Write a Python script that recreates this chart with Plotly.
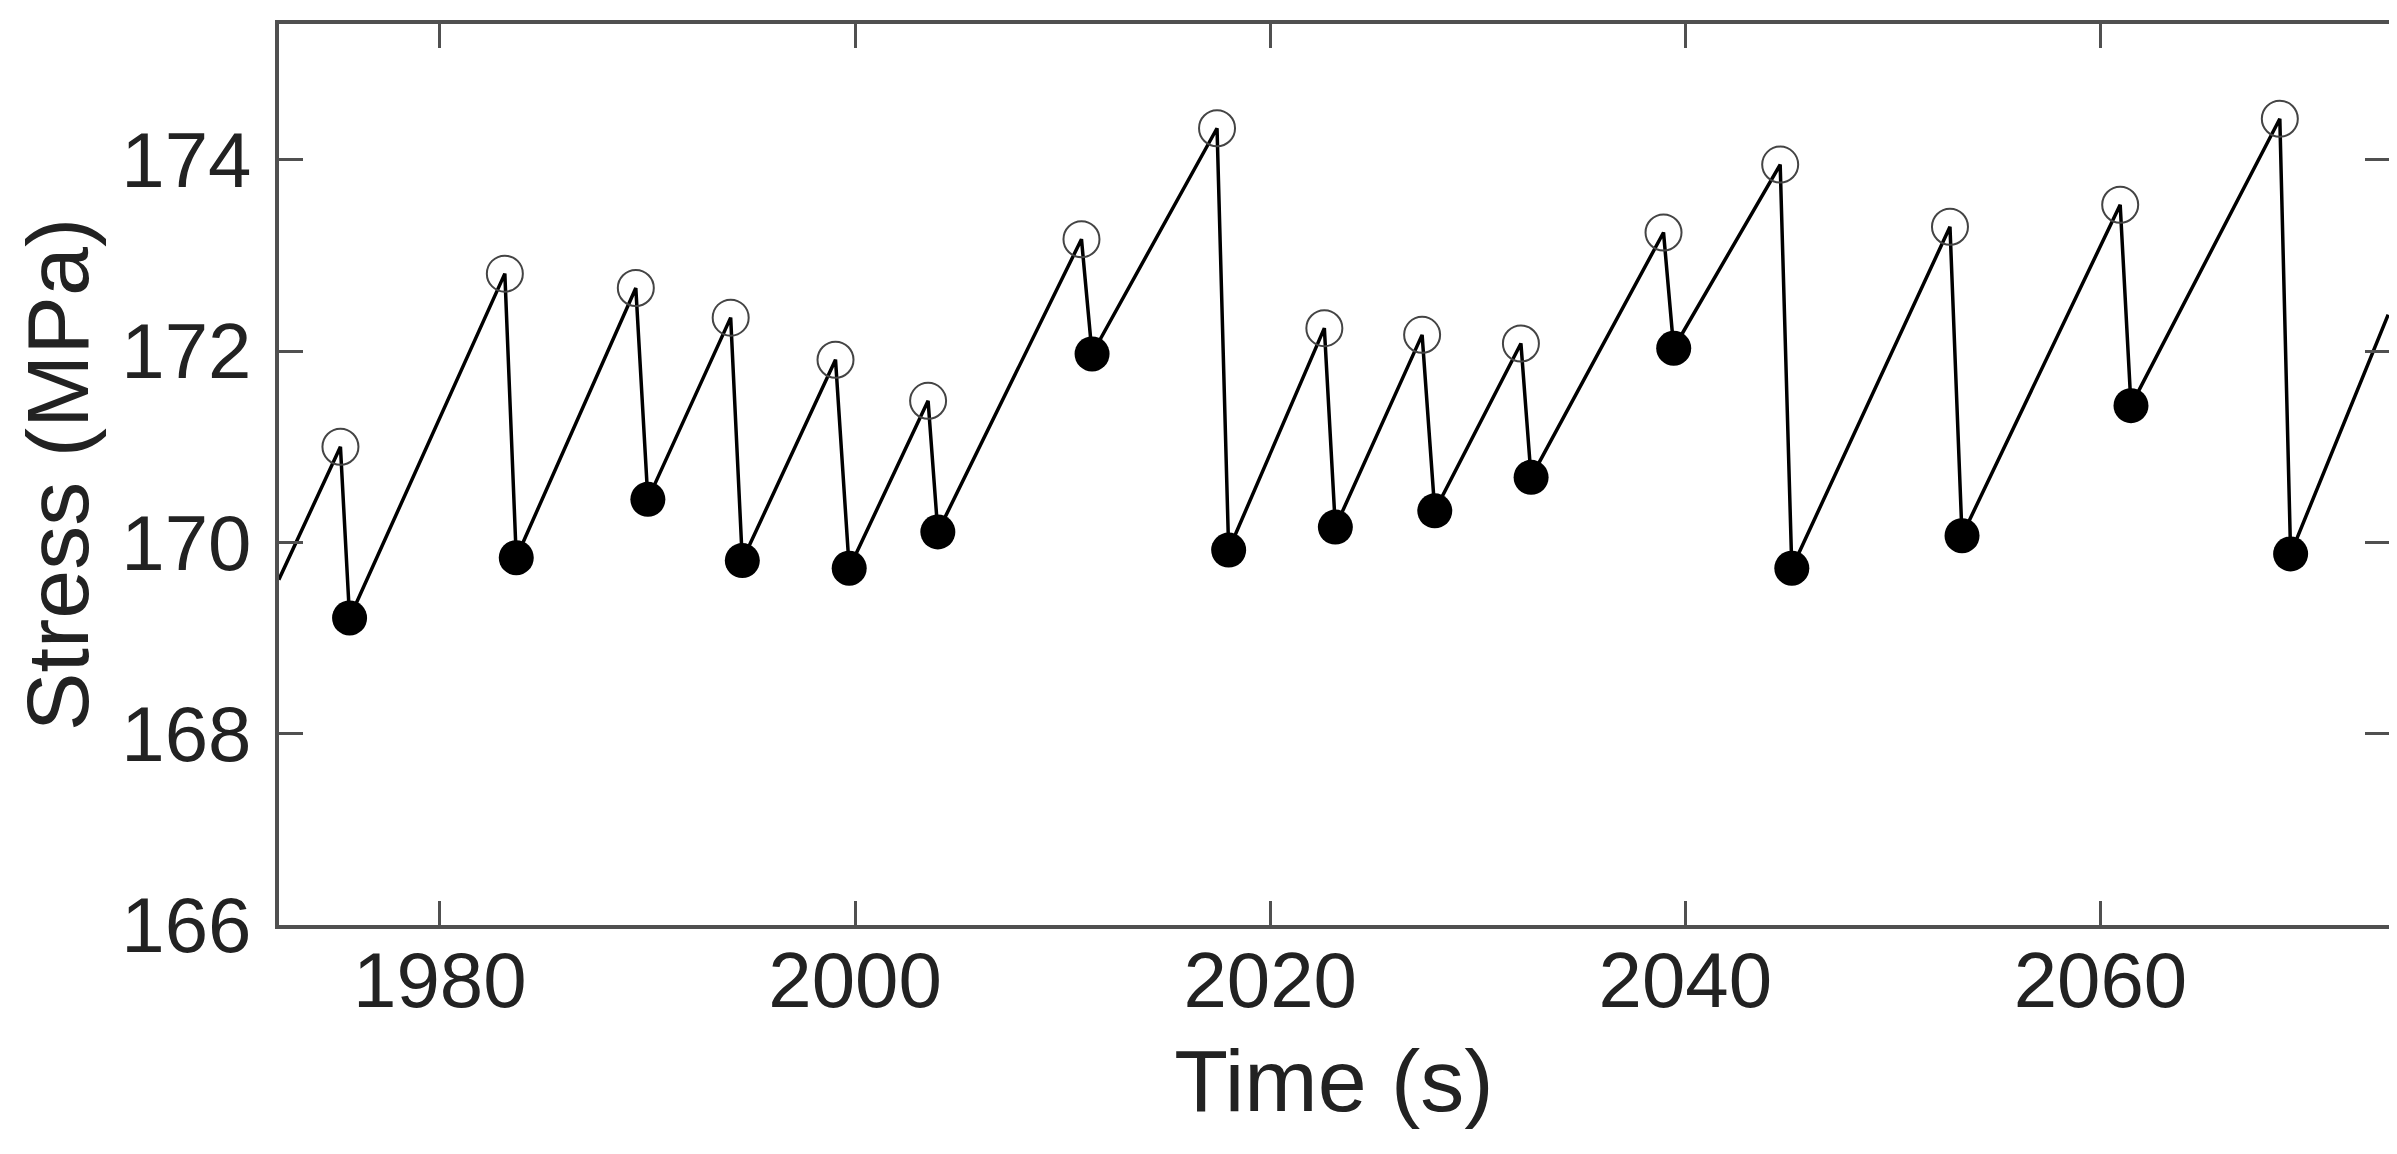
import plotly.graph_objects as go

# stress values
start_time, start_stress = 1972.24, 169.61
end_time, end_stress = 2073.86, 172.38

peak_time = [1975.21, 1983.13, 1989.44, 1994.01, 1999.06, 2003.52, 2010.91, 2017.44,
             2022.61, 2027.32, 2032.08, 2038.95, 2044.57, 2052.75, 2060.95, 2068.64]
peak_stress = [171.00, 172.81, 172.66, 172.35, 171.91, 171.48, 173.17, 174.33,
               172.24, 172.17, 172.08, 173.24, 173.95, 173.30, 173.53, 174.43]

trough_time = [1975.65, 1983.68, 1990.02, 1994.57, 1999.72, 2003.99, 2011.42, 2018.00,
               2023.14, 2027.93, 2032.57, 2039.44, 2045.13, 2053.33, 2061.47, 2069.16]
trough_stress = [169.21, 169.84, 170.45, 169.81, 169.73, 170.11, 171.97, 169.92,
                 170.16, 170.33, 170.68, 172.03, 169.73, 170.07, 171.43, 169.88]

x_ticks = [1980, 2000, 2020, 2040, 2060]
y_ticks = [166, 168, 170, 172, 174]

# full sawtooth: start -> (peak, trough) pairs -> end
line_t = [start_time]
line_s = [start_stress]
for pt, ps, tt, ts in zip(peak_time, peak_stress, trough_time, trough_stress):
    line_t += [pt, tt]
    line_s += [ps, ts]
line_t.append(end_time)
line_s.append(end_stress)

axis_color = "#505050"
font_family = "Liberation Sans, Arial, Helvetica, sans-serif"

fig = go.Figure()
fig.add_trace(go.Scatter(
    x=line_t, y=line_s, mode="lines",
    line=dict(color="black", width=3.5),
    showlegend=False, hoverinfo="skip"))
fig.add_trace(go.Scatter(
    x=peak_time, y=peak_stress, mode="markers",
    marker=dict(symbol="circle-open", size=36, color="#444444", line=dict(width=2)),
    showlegend=False, cliponaxis=False))
fig.add_trace(go.Scatter(
    x=trough_time, y=trough_stress, mode="markers",
    marker=dict(symbol="circle", size=35, color="black", line=dict(width=0)),
    showlegend=False, cliponaxis=False))

fig.update_layout(
    width=2397, height=1154,
    margin=dict(l=271, r=16, t=13, b=237),
    paper_bgcolor="white", plot_bgcolor="white",
    font=dict(family=font_family, color="#222222"),
    xaxis=dict(
        range=[1972.25, 2073.9],
        tickvals=x_ticks,
        ticks="inside", ticklen=24, tickwidth=3, tickcolor=axis_color,
        showline=True, linecolor=axis_color, linewidth=4, mirror="ticks",
        showgrid=False, zeroline=False,
        tickfont=dict(size=78), ticklabelstandoff=-16,
        title=dict(text="Time (s)", font=dict(size=88), standoff=28),
    ),
    yaxis=dict(
        range=[166, 175.42],
        tickvals=y_ticks,
        ticks="inside", ticklen=24, tickwidth=3, tickcolor=axis_color,
        showline=True, linecolor=axis_color, linewidth=4, mirror="ticks",
        showgrid=False, zeroline=False,
        tickfont=dict(size=78), ticklabelstandoff=8,
        title=dict(text="Stress (MPa)", font=dict(size=88), standoff=14),
    ),
)

fig.write_html("out.html")
